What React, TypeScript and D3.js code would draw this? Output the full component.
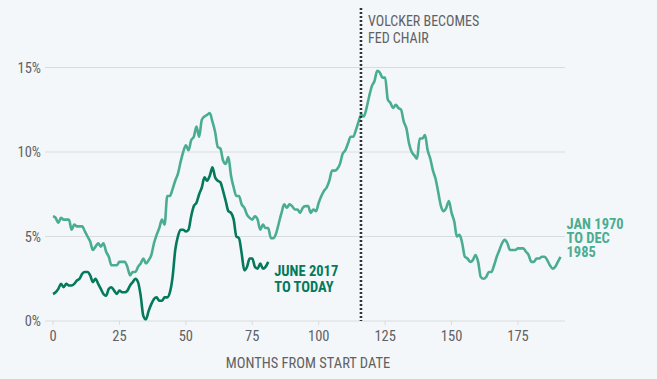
import React from "react";
import * as d3 from "d3";

// Jan 1970 – Dec 1985, CPI YoY (%)
const series1970 = [
  6.2, 6.1, 5.8, 6.1, 6.0, 6.0, 6.0, 5.4, 5.7, 5.6, 5.6, 5.6,
  5.3, 5.0, 4.7, 4.2, 4.4, 4.6, 4.4, 4.6, 4.1, 3.8, 3.3, 3.3,
  3.3, 3.5, 3.5, 3.5, 3.2, 2.7, 2.9, 2.9, 3.2, 3.4, 3.7, 3.4,
  3.6, 3.9, 4.6, 5.1, 5.5, 6.0, 5.7, 7.4, 7.4, 7.8, 8.3, 8.7,
  9.4, 10.0, 10.4, 10.1, 10.7, 10.9, 11.5, 10.9, 11.9, 12.1, 12.2, 12.3,
  11.8, 11.2, 10.3, 10.2, 9.5, 9.3, 9.7, 8.6, 7.9, 7.4, 7.4, 6.9,
  6.7, 6.3, 6.1, 6.0, 6.2, 6.0, 5.4, 5.7, 5.5, 5.5, 4.9, 4.9,
  5.2, 5.8, 6.4, 6.9, 6.7, 6.9, 6.8, 6.6, 6.6, 6.4, 6.7, 6.8,
  6.8, 6.4, 6.6, 6.5, 7.0, 7.4, 7.7, 7.9, 8.3, 8.9, 8.9, 9.0,
  9.3, 9.9, 10.1, 10.5, 10.9, 10.9, 11.3, 11.8, 12.2, 12.1, 12.6, 13.3,
  13.9, 14.2, 14.8, 14.7, 14.4, 14.4, 13.1, 12.9, 12.6, 12.8, 12.6, 12.5,
  11.8, 11.4, 10.5, 10.0, 9.8, 9.6, 10.8, 10.8, 11.0, 10.1, 9.6, 8.9,
  8.4, 7.6, 6.8, 6.5, 6.7, 7.1, 6.4, 5.9, 5.0, 5.1, 4.6, 3.8,
  3.7, 3.5, 3.6, 3.9, 3.5, 2.6, 2.5, 2.6, 2.9, 2.9, 3.3, 3.8,
  4.2, 4.6, 4.8, 4.6, 4.2, 4.2, 4.2, 4.3, 4.3, 4.3, 4.1, 3.9,
  3.5, 3.5, 3.7, 3.7, 3.8, 3.8, 3.6, 3.3, 3.1, 3.2, 3.5, 3.8,
];

// June 2017 – today, CPI YoY (%)
const series2017 = [
  1.6, 1.7, 1.9, 2.2, 2.0, 2.2, 2.1,
  2.1, 2.2, 2.4, 2.5, 2.8, 2.9, 2.9, 2.7, 2.3, 2.5, 2.2, 1.9,
  1.6, 1.5, 1.9, 2.0, 1.8, 1.6, 1.8, 1.7, 1.7, 1.8, 2.1, 2.3,
  2.5, 2.3, 1.5, 0.3, 0.1, 0.6, 1.0, 1.3, 1.4, 1.2, 1.2, 1.4,
  1.4, 1.7, 2.6, 4.2, 5.0, 5.4, 5.4, 5.3, 5.4, 6.2, 6.8, 7.0,
  7.5, 7.9, 8.5, 8.3, 8.6, 9.1, 8.5, 8.3, 8.2, 7.7, 7.1, 6.5,
  6.4, 6.0, 5.0, 4.9, 4.0, 3.0, 3.2, 3.7, 3.7, 3.2, 3.1, 3.4,
  3.1, 3.2, 3.5,
];

const xTicks = [0, 25, 50, 75, 100, 125, 150, 175];
const yTicks = [0, 5, 10, 15];
const volckerMonth = [115.9];
const labelOld = ["JAN 1970", "TO DEC", "1985"];
const labelNew = ["JUNE 2017", "TO TODAY"];
const volckerText = ["VOLCKER BECOMES", "FED CHAIR"];
const xAxisTitle = "MONTHS FROM START DATE";

const W = 657;
const H = 379;
const FONT = "'Roboto Condensed', 'Liberation Sans Narrow', 'Arial Narrow', 'DejaVu Sans Condensed', sans-serif";
const LIGHT = "#4aad91";
const DARK = "#04795c";
const GRID = "#d9dcdf";
const TEXT = "#5f6163";

export default function App() {
  const x = d3.scaleLinear().domain([0, 175]).range([53, 518]);
  const y = d3.scaleLinear().domain([0, 15]).range([321, 67.5]);

  const line = d3
    .line<number>()
    .x((_, i) => x(i))
    .y((d) => y(d))
    .curve(d3.curveMonotoneX);

  const gridX0 = 45;
  const gridX1 = 565;
  const vx = x(volckerMonth[0]);
  const lastOld = series1970.length - 1;
  const lastNew = series2017.length - 1;

  return (
    <svg
      width={W}
      height={H}
      style={{ position: "absolute", left: 0, top: 0, display: "block" }}
      fontFamily={FONT}
    >
      <rect x={0} y={0} width={W} height={H} fill="#f4f7fa" />
      {yTicks.map((t) => (
        <g key={"y" + t}>
          <line x1={gridX0} x2={gridX1} y1={y(t)} y2={y(t)} stroke={GRID} strokeWidth={1} />
          <text x={41} y={y(t) + 5} textAnchor="end" fontSize={14.5} fill={TEXT}>
            {t + "%"}
          </text>
        </g>
      ))}
      {xTicks.map((t) => (
        <g key={"x" + t}>
          <line x1={x(t)} x2={x(t)} y1={y(0)} y2={y(0) + 4} stroke={GRID} strokeWidth={1} />
          <text x={x(t)} y={y(0) + 19.5} textAnchor="middle" fontSize={14.5} fill={TEXT}>
            {t}
          </text>
        </g>
      ))}
      <text x={308} y={367.5} textAnchor="middle" fontSize={14.5} fill={TEXT}>
        {xAxisTitle}
      </text>

      <path d={line(series1970) || ""} fill="none" stroke={LIGHT} strokeWidth={2.6} strokeLinejoin="round" />
      <path d={line(series2017) || ""} fill="none" stroke={DARK} strokeWidth={2.6} strokeLinejoin="round" />

      <line x1={vx} x2={vx} y1={8} y2={y(0)} stroke="#333" strokeWidth={2.6} strokeDasharray="2,2" />
      {volckerText.map((s, i) => (
        <text key={s} x={vx + 7} y={26 + i * 16.5} fontSize={14} fill={TEXT}>
          {s}
        </text>
      ))}

      {labelNew.map((s, i) => (
        <text key={s} x={x(lastNew) + 6} y={276 + i * 15.5} fontSize={14.5} fontWeight="bold" fill={DARK}>
          {s}
        </text>
      ))}
      {labelOld.map((s, i) => (
        <text key={s} x={x(lastOld) + 6} y={229 + i * 14} fontSize={14.5} fontWeight="bold" fill={LIGHT}>
          {s}
        </text>
      ))}
    </svg>
  );
}
